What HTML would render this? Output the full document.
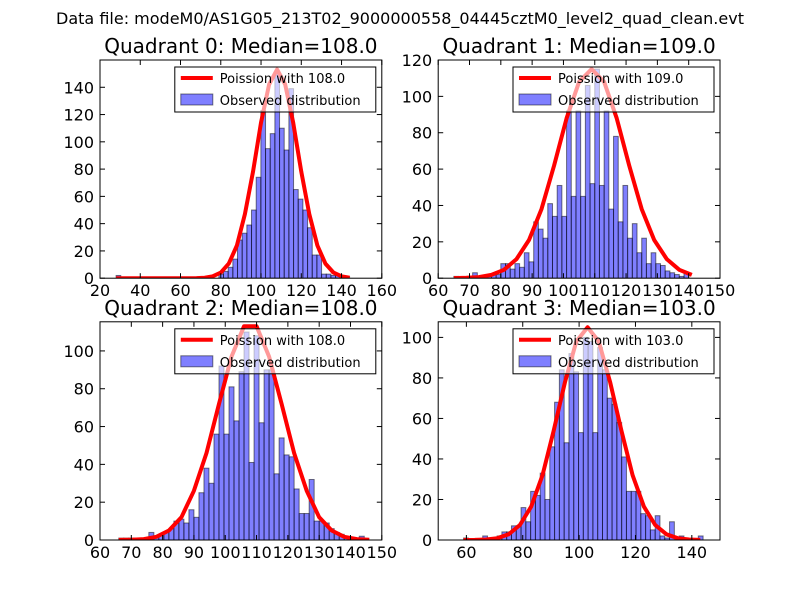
<!DOCTYPE html>
<html><head><meta charset="utf-8"><style>
body{margin:0;background:#fff;}
svg{display:block;font-family:"DejaVu Sans","Liberation Sans",sans-serif;}
</style></head><body>
<svg id="chart" width="800" height="600" viewBox="0 0 800 600" xmlns="http://www.w3.org/2000/svg">
<rect width="800" height="600" fill="#fff"/>
<text x="400" y="24" text-anchor="middle" font-size="16">Data file: modeM0/AS1G05_213T02_9000000558_04445cztM0_level2_quad_clean.evt</text>
</svg>
<script>
// ---- data ----
const titles = ["Quadrant 0: Median=108.0","Quadrant 1: Median=109.0","Quadrant 2: Median=108.0","Quadrant 3: Median=103.0"];
const legendLabels = ["Poission with 108.0","Poission with 109.0","Poission with 108.0","Poission with 103.0"];
const binStarts = [28, 65, 66, 59];
const binWidths = [2.32, 1.5, 1.6, 1.7];
const counts0 = [2,0,0,0,0,0,0,0,0,0,0,0,0,0,0,0,0,0,0,0,0,0,3,5,8,14,28,33,39,50,74,123,95,106,151,110,94,139,65,58,50,37,17,17,3,3,2,2,1,1];
const counts1 = [1,0,0,0,3,1,0,1,2,2,8,8,5,8,6,14,9,31,27,22,41,34,51,34,92,45,92,45,106,52,115,51,92,38,78,31,51,22,30,14,22,8,14,8,7,4,3,2,1,3];
const counts2 = [1,1,1,1,0,1,4,2,3,4,6,10,11,9,16,12,25,38,30,56,92,56,81,63,89,110,41,108,62,90,90,35,54,45,44,27,14,14,32,10,10,9,6,4,3,1,1,0,2,0];
const counts3 = [1,0,0,0,2,0,0,2,4,4,7,7,16,9,24,22,33,20,46,68,84,48,92,83,53,100,98,53,95,84,70,67,58,41,24,24,24,13,12,5,12,2,1,9,0,2,0,0,0,2];
const curveX0 = [28,64,68,72,76,80,84,88,92,96,100,104,108,112,116,120,124,128,132,136,140,144];
const curveY0 = [0,0,0.1,0.4,1.4,4.1,10.7,24,47,78,114,142,153,142,114,78,47,24,10.7,4.1,1.4,0.4];
const curveX1 = [65,69,73,77,81,85,89,93,97,101,105,109,113,117,121,125,129,133,137,141];
const curveY1 = [0.05,0.2,0.6,1.8,4.6,10.5,21,38,62,88,108,115,108,88,62,38,21,10.5,4.6,1.8];
const curveX2 = [66,70,74,78,82,86,90,94,98,102,106,110,114,118,122,126,130,134,138,142,146];
const curveY2 = [0.03,0.15,0.5,1.7,5,12,26,46,72,97,113,113,97,72,46,26,12,5,1.7,0.5,0.15];
const curveX3 = [59,63,67,71,75,79,83,87,91,95,99,103,107,111,115,119,123,127,131,135,139,143];
const curveY3 = [0.01,0.06,0.26,0.9,2.8,7.4,16.5,32,54,78,98,105,98,78,54,32,16.5,7.4,2.8,0.9,0.26,0.06];
const xTicks0 = [20,40,60,80,100,120,140,160];
const xTicks1 = [60,70,80,90,100,110,120,130,140,150];
const xTicks2 = [60,70,80,90,100,110,120,130,140,150];
const xTicks3 = [60,80,100,120,140];
const yTicks0 = [0,20,40,60,80,100,120,140];
const yTicks1 = [0,20,40,60,80,100,120];
const yTicks2 = [0,20,40,60,80,100];
const yTicks3 = [0,20,40,60,80,100];
const xMins = [20,60,60,50];
const xMaxs = [160,150,150,150];
const yMaxs = [160,120,115.4,107.7];

// ---- drawing ----
const NS = "http://www.w3.org/2000/svg";
const svg = document.getElementById("chart");
function mk(tag, attrs, parent){
  const e = document.createElementNS(NS, tag);
  for (const k in attrs) e.setAttribute(k, attrs[k]);
  (parent || svg).appendChild(e);
  return e;
}
const origins = [[100,60],[438.2,60],[100,321.8],[438.2,321.8]];
const W = 281.8, H = 218.2;
const allCounts = [counts0,counts1,counts2,counts3];
const allCX = [curveX0,curveX1,curveX2,curveX3];
const allCY = [curveY0,curveY1,curveY2,curveY3];
const allXT = [xTicks0,xTicks1,xTicks2,xTicks3];
const allYT = [yTicks0,yTicks1,yTicks2,yTicks3];

for (let p = 0; p < 4; p++) {
  const [x0, y0] = origins[p];
  const xs = v => x0 + (v - xMins[p]) / (xMaxs[p] - xMins[p]) * W;
  const ys = v => y0 + H - v / yMaxs[p] * H;
  const g = mk("g", {});
  
  
  const clipId = "clip" + p;
  const cp = mk("clipPath", {id: clipId}, g);
  mk("rect", {x: x0, y: y0, width: W, height: H}, cp);
  const plot = mk("g", {"clip-path": "url(#" + clipId + ")"}, g);
  const c = allCounts[p];
  for (let i = 0; i < c.length; i++) {
    if (c[i] <= 0) continue;
    const a = xs(binStarts[p] + i * binWidths[p]);
    const b = xs(binStarts[p] + (i + 1) * binWidths[p]);
    const r = mk("rect", {x: a, y: ys(c[i]), width: b - a, height: ys(0) - ys(c[i]), fill: "rgba(0,0,255,0.5)", stroke: "rgba(0,0,0,0.5)", "stroke-width": 1}, plot);
    
    
  }
  const cx = allCX[p], cy = allCY[p];
  let d = "";
  for (let i = 0; i < cx.length; i++) d += (i ? "L" : "M") + xs(cx[i]).toFixed(1) + "," + ys(cy[i]).toFixed(1);
  const line = mk("path", {d: d, fill: "none", stroke: "#ff0000", "stroke-width": 4, "stroke-linejoin": "round"}, plot);
  
  
  const fr = mk("rect", {x: x0, y: y0, width: W, height: H, fill: "none", stroke: "#000", "stroke-width": 1}, g);
  
  
  allXT[p].forEach(t => {
    const x = xs(t);
    mk("line", {x1: x, y1: y0 + H, x2: x, y2: y0 + H - 5, stroke: "#000"}, g);
    mk("line", {x1: x, y1: y0, x2: x, y2: y0 + 5, stroke: "#000"}, g);
    const tx = mk("text", {x: x, y: y0 + H + 18, "text-anchor": "middle", "font-size": 16}, g);
    tx.textContent = t;
    
    
  });
  allYT[p].forEach(t => {
    const y = ys(t);
    mk("line", {x1: x0, y1: y, x2: x0 + 5, y2: y, stroke: "#000"}, g);
    mk("line", {x1: x0 + W, y1: y, x2: x0 + W - 5, y2: y, stroke: "#000"}, g);
    const tx = mk("text", {x: x0 - 6, y: y + 6, "text-anchor": "end", "font-size": 16}, g);
    tx.textContent = t;
    
    
  });
  const tt = mk("text", {x: x0 + W / 2, y: y0 - 7, "text-anchor": "middle", "font-size": 20}, g);
  tt.textContent = titles[p];
  
  
  const lg = mk("g", {}, g);
  
  
  const lx = x0 + W - 207, ly = y0 + 7;
  mk("rect", {x: lx, y: ly, width: 201, height: 45, fill: "rgba(255,255,255,0.6)", stroke: "#000", "stroke-width": 1}, lg);
  mk("line", {x1: lx + 6, y1: ly + 11, x2: lx + 38, y2: ly + 11, stroke: "#ff0000", "stroke-width": 4}, lg);
  const l1 = mk("text", {x: lx + 45, y: ly + 16, "font-size": 13}, lg);
  l1.textContent = legendLabels[p];
  
  
  mk("rect", {x: lx + 6, y: ly + 27, width: 32, height: 11, fill: "rgba(0,0,255,0.5)", stroke: "rgba(0,0,0,0.5)"}, lg);
  const l2 = mk("text", {x: lx + 45, y: ly + 38, "font-size": 13}, lg);
  l2.textContent = "Observed distribution";
  
  
}
</script>
</body></html>
